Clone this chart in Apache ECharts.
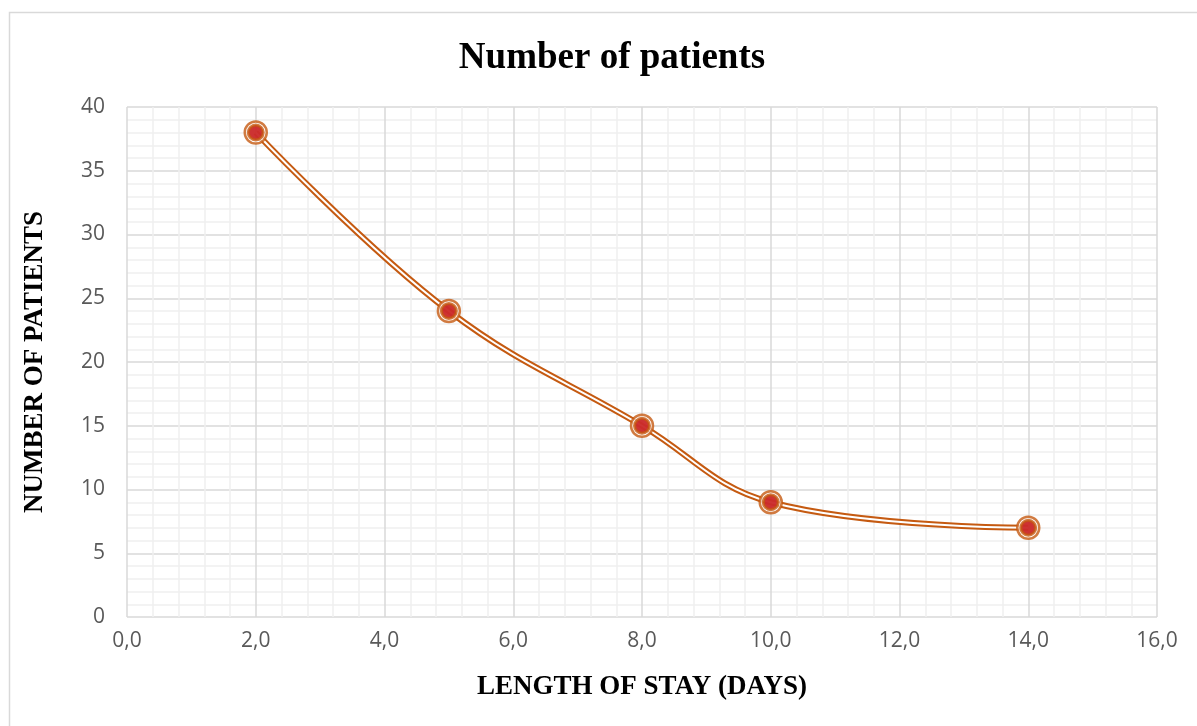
<!DOCTYPE html>
<html>
<head>
<meta charset="utf-8">
<script src="https://cdn.jsdelivr.net/npm/echarts@6/dist/echarts.min.js"></script>
<style>
html,body{margin:0;padding:0;background:#fff;}
#chart{width:1197px;height:726px;}
</style>
</head>
<body>
<div id="chart"></div>
<script>
const lengthOfStay = [2, 5, 8, 10, 14];
const patients = [38, 24, 15, 9, 7];
const titleText = 'Number of patients';
const xAxisName = 'LENGTH OF STAY (DAYS)';
const yAxisName = 'NUMBER OF PATIENTS';

const points = lengthOfStay.map((x, i) => [x, patients[i]]);
const orange = '#C55A11';
const chart = echarts.init(document.getElementById('chart'));
const fmtX = v => v.toFixed(1).replace('.', ',');

chart.setOption({
  animation: false,
  backgroundColor: '#fff',
  graphic: [{
    type: 'rect', left: 7, top: 10, z: -10,
    shape: { width: 1300, height: 800 },
    style: { fill: 'none', stroke: '#d9d9d9', lineWidth: 1.5 }
  }],
  title: {
    text: titleText, left: 607, textAlign: 'center', top: 35,
    textStyle: { fontFamily: 'Liberation Serif', fontWeight: 'bold', fontSize: 37, color: '#000' }
  },
  grid: { left: 127, right: 40, top: 107, bottom: 109 },
  xAxis: {
    type: 'value', min: 0, max: 16, interval: 2,
    name: xAxisName, nameLocation: 'middle', nameGap: 57,
    nameTextStyle: { fontFamily: 'Liberation Serif', fontWeight: 'bold', fontSize: 27, color: '#000' },
    axisLine: { show: false }, axisTick: { show: false },
    axisLabel: { formatter: fmtX, color: '#595959', fontSize: 21, fontFamily: 'Open Sans', margin: 14 },
    splitLine: { show: true, lineStyle: { color: '#d9d9d9', width: 1.5 } },
    minorTick: { show: false, splitNumber: 5 },
    minorSplitLine: { show: true, lineStyle: { color: '#efefef', width: 1.5 } }
  },
  yAxis: {
    type: 'value', min: 0, max: 40, interval: 5,
    name: yAxisName, nameLocation: 'middle', nameGap: 78, nameRotate: 90,
    nameTextStyle: { fontFamily: 'Liberation Serif', fontWeight: 'bold', fontSize: 27, color: '#000' },
    axisLine: { show: false }, axisTick: { show: false },
    axisLabel: { color: '#595959', fontSize: 21, fontFamily: 'Open Sans', margin: 22 },
    splitLine: { show: true, lineStyle: { color: '#d9d9d9', width: 1.5 } },
    minorTick: { show: false, splitNumber: 5 },
    minorSplitLine: { show: true, lineStyle: { color: '#efefef', width: 1.5 } }
  },
  series: [
    { type: 'line', data: points, smooth: 0.4, showSymbol: false, silent: true,
      lineStyle: { color: orange, width: 6 }, z: 2 },
    { type: 'line', data: points, smooth: 0.4, showSymbol: false, silent: true,
      lineStyle: { color: '#fff', width: 2 }, z: 3 },
    { type: 'scatter', data: points, symbol: 'circle', symbolSize: 22, z: 4,
      itemStyle: { color: '#fff', borderColor: orange, borderWidth: 2.5 } },
    { type: 'scatter', data: points, symbol: 'circle', symbolSize: 15, z: 5,
      itemStyle: { color: '#C00000', borderColor: orange, borderWidth: 3 } }
  ]
});
</script>
</body>
</html>
